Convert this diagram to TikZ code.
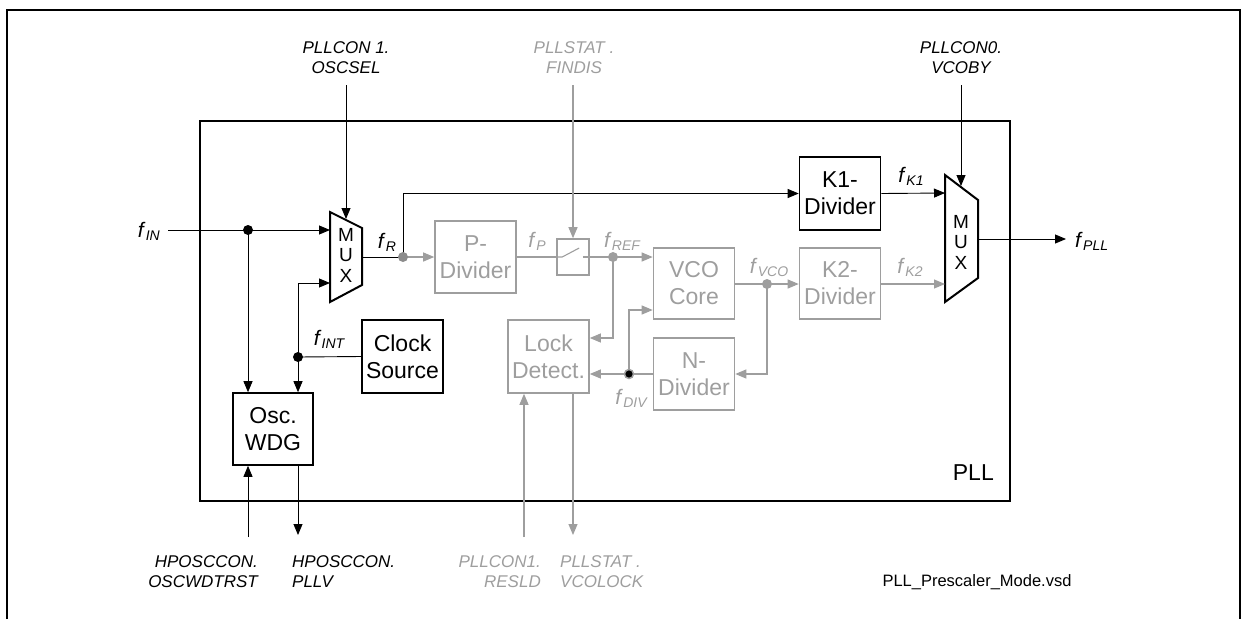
\documentclass[tikz,border=0pt]{standalone}
\usepackage{fontspec}
\setmainfont{Liberation Sans}
\usetikzlibrary{arrows.meta,calc}
\definecolor{gc}{RGB}{158,158,158}
\definecolor{gdot}{RGB}{140,140,140}
\newcommand{\fsig}[1]{\textit{f}\kern0.3pt\raisebox{-3.5pt}{\fontsize{14}{14}\selectfont\itshape #1}}
\tikzset{
  blk/.style={draw, line width=1.6pt, minimum width=81pt, minimum height=72pt, inner sep=0pt, align=center, font=\fontsize{23}{27}\selectfont},
  gblk/.style={blk, draw=gc, text=gc},
  wire/.style={line width=0.9pt},
  gwire/.style={line width=1.1pt, draw=gc},
  arr/.style={-{Triangle[length=11pt,width=9pt]}},
  lab/.style={font=\fontsize{17}{20}\selectfont\itshape, inner sep=0pt},
  flab/.style={font=\fontsize{21}{21}\selectfont, inner sep=0pt},
  jdot/.style={circle, fill, inner sep=0pt, minimum size=10pt},
  muxtxt/.style={font=\fontsize{19}{20.5}\selectfont, align=center, inner sep=0pt},
  muxline/.style={line width=2pt, line join=miter}
}
\begin{document}
\begin{tikzpicture}[x=1pt,y=-1pt]
\useasboundingbox (0,0) rectangle (1241,619);
% outer frame
\draw[line width=2.2pt] (7,619) -- (7,10) -- (1239.9,10) -- (1239.9,619);
% PLL box
\node[draw, line width=2pt, minimum width=810pt, minimum height=380pt, inner sep=0pt] (pll) at (605,311) {};
\node[font=\fontsize{23}{23}\selectfont, inner sep=0pt, anchor=base east] (plllab) at (994,480) {PLL};
\node[font=\fontsize{16.5}{16.5}\selectfont, inner sep=0pt] (fname) at (977,582) {PLL\_Prescaler\_Mode.vsd};

% blocks
\node[gblk] (pdiv) at (475.5,257) {P-\\Divider};
\node[gblk, minimum height=71pt] (vco) at (694,283.5) {VCO\\Core};
\node[gblk, minimum height=71pt] (k2) at (840,283.5) {K2-\\Divider};
\node[blk, minimum height=73pt] (k1) at (840,193.5) {K1-\\Divider};
\node[gblk] (ndiv) at (694,374) {N-\\Divider};
\node[gblk, minimum height=73pt] (lock) at (548.5,356.5) {Lock\\Detect.};
\node[blk, minimum height=73pt] (clk) at (402.5,356.5) {Clock\\Source};
\node[blk, minimum width=80pt] (osc) at (273,429) {Osc.\\WDG};
\node[draw=gc, line width=1.6pt, minimum width=32pt, minimum height=36pt, inner sep=0pt] (sw) at (573,257) {};

% MUX 1
\draw[muxline] (330,212) -- (362,228) -- (362,285) -- (330,302) -- cycle;
\node[muxtxt] (mux1) at (346,255) {M\\U\\X};
\coordinate (m1in1) at (330,230);
\coordinate (m1in2) at (330,283);
\coordinate (m1sel) at (346,219);
\coordinate (m1out) at (362,257);
% MUX 2
\draw[muxline] (945,175) -- (978,200) -- (978,278) -- (945,302) -- cycle;
\node[muxtxt] (mux2) at (961,242) {M\\U\\X};
\coordinate (m2in1) at (945,193);
\coordinate (m2in2) at (945,284);
\coordinate (m2sel) at (961,186);
\coordinate (m2out) at (978,239);

% junctions and free ends
\coordinate (finS) at (168,230);
\coordinate (j1) at (248,230);
\coordinate (jint) at (298,357);
\coordinate (jR) at (403,257);
\coordinate (jREF) at (613,257);
\coordinate (jVCO) at (767,284);
\coordinate (jDIV) at (629,374);
\coordinate (oscsel) at (346,85);
\coordinate (findis) at (573,85);
\coordinate (vcoby) at (961,85);
\coordinate (fpll) at (1066,239);
\coordinate (wdtrst) at (248,537);
\coordinate (pllv) at (298,535);
\coordinate (resld) at (524,537);
\coordinate (vcolock) at (573,535);

% black wires
\draw[wire, arr] (finS) -- (m1in1);
\draw[wire, arr] (j1) -- (j1 |- osc.north);
\draw[wire] (clk.west) -- (jint);
\draw[wire, arr] (jint) |- (m1in2);
\draw[wire, arr] (jint) -- (jint |- osc.north);
\draw[wire, arr] (oscsel) -- (m1sel);
\draw[wire] (m1out) -- (jR);
\draw[wire, arr] (jR) |- (k1.west);
\draw[wire, arr] (k1.east) -- (m2in1);
\draw[wire, arr] (vcoby) -- (m2sel);
\draw[wire, arr] (m2out) -- (fpll);
\draw[wire, arr] (wdtrst) -- (wdtrst |- osc.south);
\draw[wire, arr] (pllv |- osc.south) -- (pllv);

% gray wires
\draw[gwire, arr] (jR) -- (pdiv.west);
\draw[gwire] (pdiv.east) -- (sw.west);
\draw[gwire] (sw.west) -- ++(6,0) -- ++(17,-9);
\draw[gwire] (sw.east) ++(-7,0) -- (sw.east);
\draw[gwire, arr] (findis) -- (sw.north);
\draw[gwire] (sw.east) -- (jREF);
\draw[gwire, arr] (jREF) -- (vco.west |- jREF);
\draw[gwire, arr] (jREF) |- ($(lock.east)+(0,-18.5)$);
\draw[gwire] (vco.east |- jVCO) -- (jVCO);
\draw[gwire, arr] (jVCO) -- (k2.west |- jVCO);
\draw[gwire, arr] (jVCO) |- (ndiv.east);
\draw[gwire] (ndiv.west) -- (jDIV);
\draw[gwire, arr] (jDIV) -- (lock.east |- jDIV);
\draw[gwire, arr] (jDIV) |- ($(vco.west)+(0,26.5)$);
\draw[gwire, arr] (k2.east |- m2in2) -- (m2in2);
\draw[gwire, arr] (resld) -- (resld |- lock.south);
\draw[gwire, arr] (vcolock |- lock.south) -- (vcolock);

% dots
\node[jdot] at (j1) {};
\node[jdot] at (jint) {};
\node[jdot, fill=gdot] at (jR) {};
\node[jdot, fill=gc] at (jREF) {};
\node[jdot, fill=gc] at (jVCO) {};
\node[circle, fill=black, draw=gc, line width=1.5pt, inner sep=0pt, minimum size=9pt] at (jDIV) {};

% signal labels
\node[flab, anchor=base east] (lfin) at (160,237) {\fsig{IN}};
\node[flab, anchor=base] (lfr) at (387,248) {\fsig{R}};
\node[flab, anchor=base, text=gc] (lfp) at (537,247) {\fsig{P}};
\node[flab, anchor=base, text=gc] (lfref) at (622,247) {\fsig{REF}};
\node[flab, anchor=base, text=gc] (lfvco) at (769,273) {\fsig{VCO}};
\node[flab, anchor=base, text=gc] (lfk2) at (910,273) {\fsig{K2}};
\node[flab, anchor=base] (lfk1) at (911,182) {\fsig{K1}};
\node[flab, anchor=base west] (lfpll) at (1075,247) {\fsig{PLL}};
\node[flab, anchor=base] (lfint) at (329,345) {\fsig{INT}};
\node[flab, anchor=base, text=gc] (lfdiv) at (631,404) {\fsig{DIV}};

% register labels
\node[lab, align=center] (toposc) at (346,58) {PLLCON 1.\\OSCSEL};
\node[lab, align=center, text=gc] (topfin) at (574,58) {PLLSTAT .\\FINDIS};
\node[lab, align=center] (topvco) at (961,58) {PLLCON0.\\VCOBY};
\node[lab, align=right, anchor=east] (botwdt) at (258,572) {HPOSCCON.\\OSCWDTRST};
\node[lab, align=left, anchor=west] (botpllv) at (292,572) {HPOSCCON.\\PLLV};
\node[lab, align=right, anchor=east, text=gc] (botres) at (541,572) {PLLCON1.\\RESLD};
\node[lab, align=left, anchor=west, text=gc] (botlock) at (560,572) {PLLSTAT .\\VCOLOCK};
\end{tikzpicture}
\end{document}
